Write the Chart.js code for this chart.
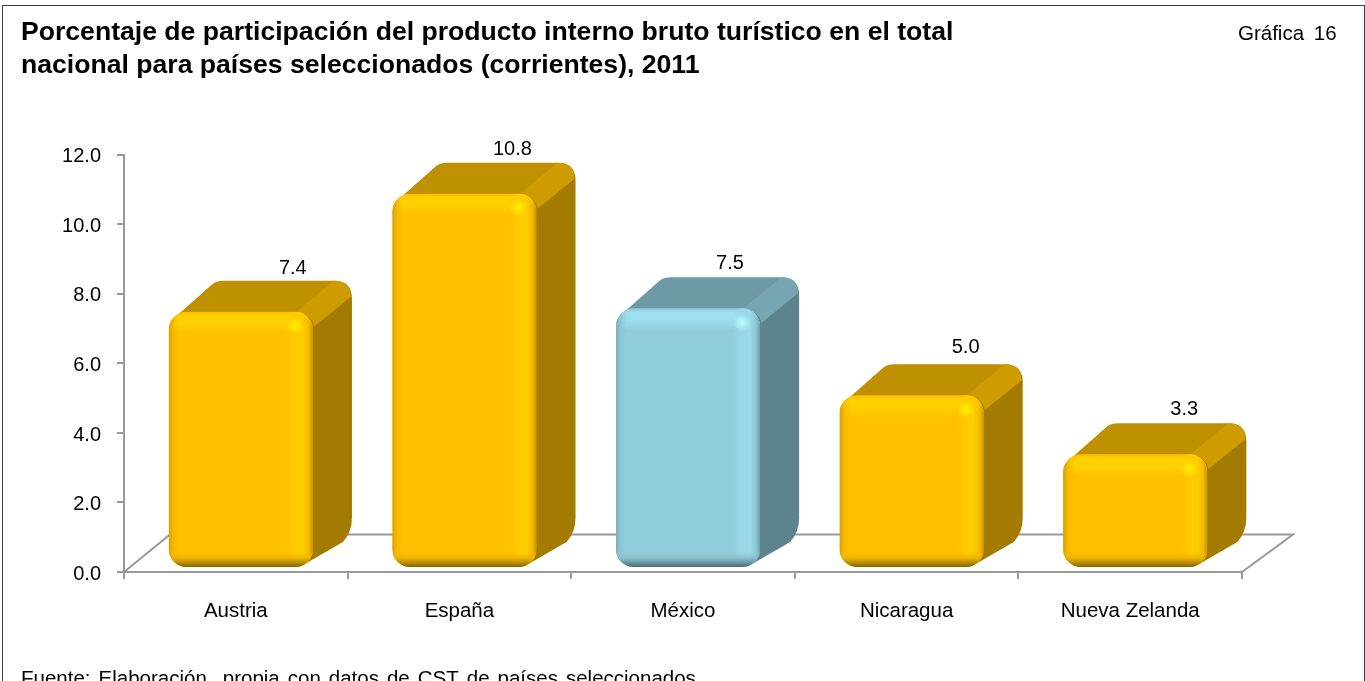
<!DOCTYPE html>
<html lang="es">
<head>
<meta charset="utf-8">
<title>Gráfica 16</title>
<style>html,body{margin:0;padding:0;background:#fff}canvas{display:block}</style>
<script src="https://cdn.jsdelivr.net/npm/chart.js@4"></script>
</head>
<body>
<canvas id="c" width="1365" height="681"></canvas>
<script>
const categories = ["Austria", "España", "México", "Nicaragua", "Nueva Zelanda"];
const values = [7.4, 10.8, 7.5, 5.0, 3.3];
const barColors = ["#FFC000", "#FFC000", "#92CDDC", "#FFC000", "#FFC000"];
const titleLines = ["Porcentaje de participación del producto interno bruto turístico en el total", "nacional para países seleccionados (corrientes), 2011"];
const chartNumber = "Gráfica 16";
const sourceNote = "Fuente: Elaboración  propia con datos de CST de países seleccionados";

const FONT = '"Liberation Sans", Arial, sans-serif';
const DEPTH_X = 39, DEPTH_Y = 31, FRONT_DX = 5, FRONT_DY = -3, BASE_DY = -4, R = 18;
const LABEL_NUDGE_X = [52, 48, 42, 54, 49];
const LABEL_NUDGE_Y = [-12, -13, -14, -17, -14];

function rgb(hex){return [1,3,5].map(i=>parseInt(hex.substr(i,2),16));}
function shade(hex,k,a){const c=rgb(hex).map(v=>Math.min(255,Math.round(v*k)));return a===undefined?`rgb(${c})`:`rgba(${c},${a})`;}

class Bar3DElement extends Chart.BarElement {
  static id = 'bar3d';
  draw(ctx){
    const col = this.options.backgroundColor;
    const w = this.width, x0 = this.x - w/2 + FRONT_DX, x1 = x0 + w;
    const y0 = this.y + FRONT_DY, y1 = this.base + BASE_DY;
    const bx1 = x1 + DEPTH_X, by0 = y0 - DEPTH_Y, by1 = y1 - DEPTH_Y;
    ctx.save();
    ctx.filter = 'blur(0.6px)';
    // side face
    ctx.fillStyle = shade(col,.64);
    ctx.beginPath();
    ctx.moveTo(x1-R, y0+2);
    ctx.lineTo(bx1-R, by0);
    ctx.quadraticCurveTo(bx1, by0, bx1, by0+R);
    ctx.lineTo(bx1, by1-R);
    ctx.quadraticCurveTo(bx1, by1-4, bx1-9, by1+6);
    ctx.lineTo(x1-8, y1-3);
    ctx.closePath();
    ctx.fill();
    // top face
    ctx.fillStyle = shade(col,.75);
    ctx.beginPath();
    ctx.moveTo(x0+8, y0+4);
    ctx.lineTo(x0+43, by0+4);
    ctx.quadraticCurveTo(x0+47, by0, x0+55, by0);
    ctx.lineTo(bx1-R, by0);
    ctx.lineTo(x1-8, y0+5);
    ctx.closePath();
    ctx.fill();
    // bevel between top and side
    ctx.fillStyle = shade(col,.81);
    ctx.beginPath();
    ctx.moveTo(x1-R, y0+1);
    ctx.lineTo(bx1-R, by0);
    ctx.quadraticCurveTo(bx1-1, by0, bx1-1, by0+R-2);
    ctx.lineTo(x1+1, y0+R-3);
    ctx.quadraticCurveTo(x1, y0+3, x1-R, y0+1);
    ctx.closePath();
    ctx.fill();
    ctx.filter = 'none';
    // front face
    ctx.beginPath();
    ctx.roundRect(x0, y0, w, y1-y0, R);
    ctx.save();
    ctx.clip();
    ctx.fillStyle = col;
    ctx.fillRect(x0, y0, w, y1-y0);
    let g = ctx.createLinearGradient(0, y0, 0, y0+22);
    g.addColorStop(0, shade(col,.98,1)); g.addColorStop(.2, shade(col,1.09,1)); g.addColorStop(.55, shade(col,1.08,1)); g.addColorStop(1, shade(col,1.08,0));
    ctx.fillStyle = g; ctx.fillRect(x0+6, y0, w-6, 22);
    g = ctx.createLinearGradient(x1-26, 0, x1, 0);
    g.addColorStop(0, shade(col,1.05,0)); g.addColorStop(.25, shade(col,1.05,1)); g.addColorStop(.62, shade(col,1.06,1)); g.addColorStop(.85, shade(col,.96,1)); g.addColorStop(1, shade(col,.76,1));
    ctx.fillStyle = g; ctx.fillRect(x1-26, y0, 26, y1-y0);
    g = ctx.createLinearGradient(x0, 0, x0+12, 0);
    g.addColorStop(0, shade(col,.84,1)); g.addColorStop(.4, shade(col,.96,.8)); g.addColorStop(1, shade(col,1,0));
    ctx.fillStyle = g; ctx.fillRect(x0, y0, 12, y1-y0);
    g = ctx.createLinearGradient(0, y1-16, 0, y1);
    g.addColorStop(0, shade(col,1,0)); g.addColorStop(.5, shade(col,.9,1)); g.addColorStop(1, shade(col,.52,1));
    ctx.fillStyle = g; ctx.fillRect(x0, y1-16, w, 16);
    g = ctx.createRadialGradient(x1-18, y0+14, 0, x1-18, y0+14, 9);
    g.addColorStop(0, shade(col,1.25,1)); g.addColorStop(1, shade(col,1.25,0));
    ctx.fillStyle = g; ctx.fillRect(x1-28, y0+4, 20, 20);
    ctx.restore();
    ctx.restore();
  }
}
class Bar3DController extends Chart.BarController {
  static id = 'bar3d';
  static defaults = {...Chart.BarController.defaults, dataElementType: 'bar3d'};
  static overrides = Chart.BarController.overrides;
}
Chart.register(Bar3DElement, Bar3DController);

const scene = {
  id: 'scene',
  beforeDraw(chart){
    const {ctx, width, height} = chart;
    ctx.save();
    ctx.fillStyle = '#fff'; ctx.fillRect(0,0,width,height);
    ctx.strokeStyle = '#404040'; ctx.lineWidth = 1;
    ctx.strokeRect(2.5, 5.5, width-3, height+20);
    ctx.restore();
  },
  beforeDatasetsDraw(chart){
    const {ctx, scales:{x,y}} = chart;
    const y0 = y.getPixelForValue(0), bx = 46, by = 37.5;
    ctx.save();
    ctx.strokeStyle = '#999999'; ctx.lineWidth = 2; ctx.lineJoin = 'miter';
    ctx.beginPath();
    ctx.moveTo(x.left, y0);
    ctx.lineTo(x.left+bx, y0-by);
    ctx.lineTo(x.right+bx+5, y0-by);
    ctx.lineTo(x.right, y0);
    ctx.stroke();
    ctx.restore();
  },
  afterDatasetsDraw(chart){
    const {ctx} = chart;
    const meta = chart.getDatasetMeta(0);
    ctx.save();
    ctx.font = '20px ' + FONT;
    ctx.fillStyle = '#000'; ctx.textAlign = 'center'; ctx.textBaseline = 'middle';
    meta.data.forEach((bar,i)=>{
      const topBack = bar.y + FRONT_DY - DEPTH_Y;
      ctx.fillText(values[i].toFixed(1), bar.x + FRONT_DX + LABEL_NUDGE_X[i], topBack + LABEL_NUDGE_Y[i]);
    });
    ctx.font = '20.5px ' + FONT;
    ctx.textAlign = 'left'; ctx.textBaseline = 'alphabetic';
    ctx.wordSpacing = '4px';
    ctx.fillText(chartNumber, 1238, 40);
    ctx.wordSpacing = '2.3px';
    ctx.fillText(sourceNote, 21, 685);
    ctx.restore();
  }
};

new Chart(document.getElementById('c'), {
  type: 'bar3d',
  data: {
    labels: categories,
    datasets: [{ data: values, backgroundColor: barColors, barPercentage: 0.645, categoryPercentage: 1, clip: false }]
  },
  plugins: [scene],
  options: {
    responsive: false,
    animation: false,
    layout: { padding: { left: 21, right: 123, top: 0, bottom: 0 } },
    plugins: {
      legend: { display: false },
      tooltip: { enabled: false },
      title: {
        display: true,
        text: titleLines,
        align: 'start',
        color: '#000',
        font: { family: FONT, size: 26.6, weight: 'bold', lineHeight: 1.24 },
        padding: { top: 16, bottom: 73 }
      }
    },
    scales: {
      x: {
        grid: { drawOnChartArea: false, color: '#999999', lineWidth: 2, tickLength: 7 },
        border: { color: '#999999', width: 2 },
        ticks: { color: '#000', font: { family: FONT, size: 20.5 }, padding: 20, maxRotation: 0 },
        afterFit(s){ s.height = 109; }
      },
      y: {
        min: 0, max: 12,
        grid: { drawOnChartArea: false, color: '#999999', lineWidth: 2, tickLength: 7 },
        border: { color: '#999999', width: 2 },
        ticks: { stepSize: 2, color: '#000', font: { family: FONT, size: 20 }, padding: 16, labelOffset: 2, callback: v => v.toFixed(1) },
        afterFit(s){ s.width = 103; }
      }
    }
  }
});
</script>
</body>
</html>
